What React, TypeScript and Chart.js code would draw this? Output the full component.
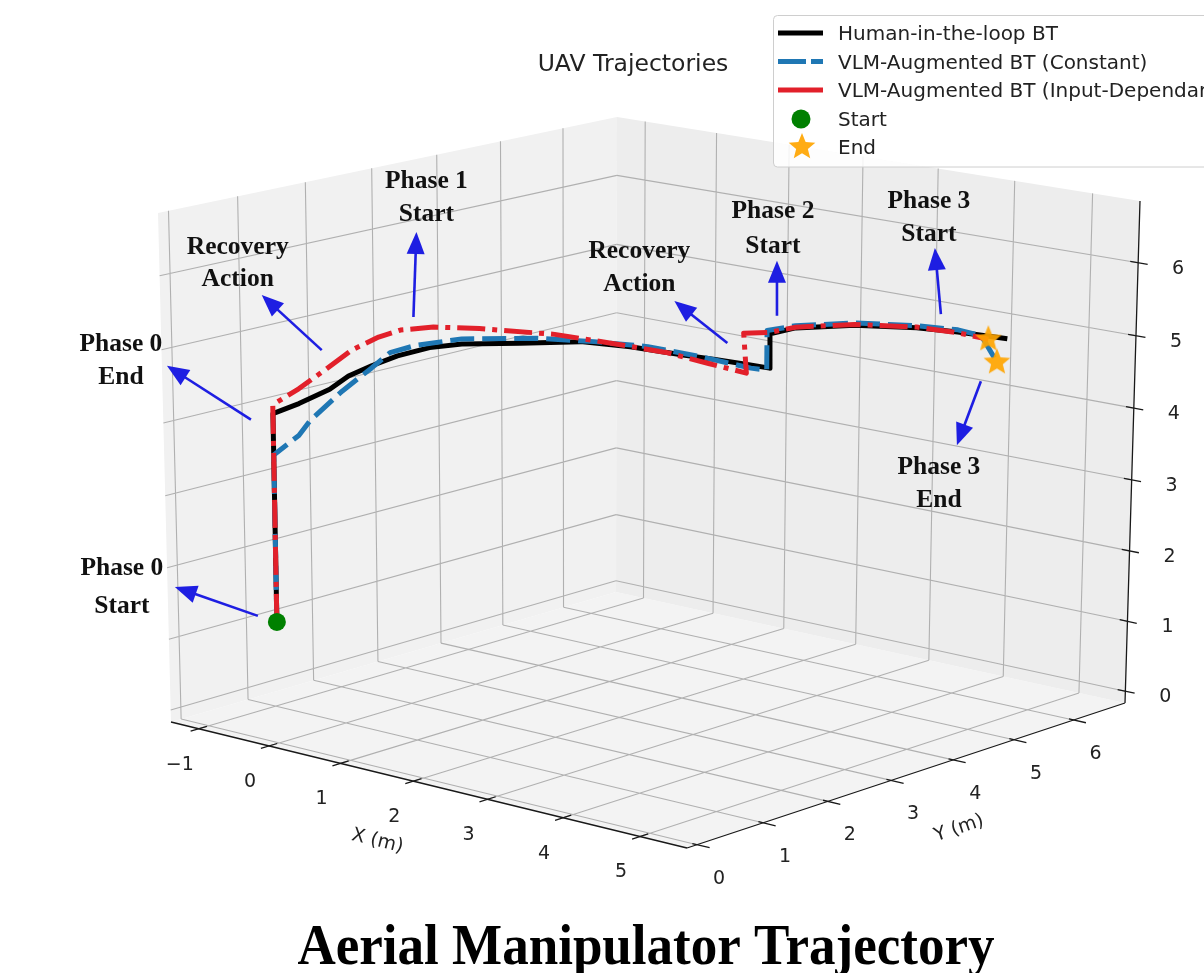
import React, { useEffect, useRef } from 'react';
import { Chart, registerables } from 'chart.js';

Chart.register(...registerables);

const FIG_W = 1204;
const FIG_H = 973;

type V3 = [number, number, number];

// ---------- axes (metres) ----------
const X_LIM: [number, number] = [-1.4, 5.6];
const Y_LIM: [number, number] = [-0.15, 6.88];
const Z_LIM: [number, number] = [-0.17, 6.84];
const X_TICKS = [-1, 0, 1, 2, 3, 4, 5];
const Y_TICKS = [0, 1, 2, 3, 4, 5, 6];
const Z_TICKS = [0, 1, 2, 3, 4, 5, 6];

// ---------- Human-in-the-loop BT ----------
const humanX = [0, 0, 0.0, -0.1, -0.26, -0.29, -0.29, -0.19, -0.06, 0.37, 0.79, 1.34, 2.0, 2.4, 2.76, 3.06, 3.06, 3.01, 3.38, 3.93, 4.37, 4.98];
const humanY = [0, 0, 0.38, 0.94, 1.39, 1.77, 2.16, 2.54, 2.89, 3.31, 3.78, 3.93, 3.99, 4.05, 4.08, 4.1, 4.1, 4.57, 5.07, 5.39, 5.51, 5.5];
const humanZ = [1.52, 4.37, 4.42, 4.47, 4.52, 4.57, 4.62, 4.67, 4.67, 4.67, 4.67, 4.67, 4.67, 4.67, 4.67, 4.67, 5.14, 5.11, 5.11, 5.11, 5.11, 5.14];

// ---------- VLM-Augmented BT (Constant) ----------
const constX = [0, 0, 0.0, -0.03, -0.22, -0.29, -0.29, -0.23, -0.06, 0.49, 0.94, 1.56, 2.22, 2.83, 3.03, 3.03, 3.01, 3.38, 3.93, 4.37, 4.68, 4.87];
const constY = [0, 0, 0.37, 0.57, 1.25, 1.77, 2.05, 2.37, 2.89, 3.45, 3.82, 3.95, 4.02, 4.08, 4.09, 4.09, 4.57, 5.07, 5.39, 5.51, 5.5, 5.52];
const constZ = [1.52, 3.81, 3.99, 4.14, 4.35, 4.54, 4.69, 4.73, 4.74, 4.73, 4.69, 4.71, 4.68, 4.63, 4.64, 5.18, 5.14, 5.14, 5.14, 5.14, 5.12, 4.79];

// ---------- VLM-Augmented BT (Input-Dependant) ----------
const inputX = [0, 0, 0.0, -0.09, -0.27, -0.29, -0.28, -0.17, 0.07, 0.61, 1.14, 1.79, 2.3, 2.77, 2.73, 3.06, 3.01, 3.38, 3.93, 4.37, 4.77];
const inputY = [0, 0, 0.38, 0.86, 1.46, 1.88, 2.2, 2.58, 3.02, 3.58, 3.88, 3.97, 4.04, 4.08, 4.08, 4.1, 4.57, 5.07, 5.39, 5.51, 5.5];
const inputZ = [1.52, 4.49, 4.62, 4.75, 4.86, 4.94, 4.97, 4.95, 4.88, 4.78, 4.69, 4.67, 4.6, 4.55, 5.09, 5.16, 5.12, 5.12, 5.12, 5.1, 5.09];

const LEGEND_LABELS = [
  'Human-in-the-loop BT',
  'VLM-Augmented BT (Constant)',
  'VLM-Augmented BT (Input-Dependant)',
  'Start',
  'End',
];

const TITLE = 'UAV Trajectories';
const CAPTION = 'Aerial Manipulator Trajectory';

// ---------- camera calibration: screen position of the axes box ----------
const BOX_CORNERS: { key: string; px: [number, number] }[] = [
  { key: '000', px: [171, 722] },
  { key: '100', px: [687, 848] },
  { key: '110', px: [1125, 703] },
  { key: '010', px: [616, 592] },
  { key: '001', px: [158, 213] },
  { key: '011', px: [617, 117] },
  { key: '111', px: [1140, 201] },
];
const X_TICK_PX: [number, number][] = [[200, 728], [273, 746], [342, 764], [417, 781], [491, 800], [568, 818], [642, 838]];
const Y_TICK_PX: [number, number][] = [[697, 847], [765, 823], [827, 802], [893, 781], [954, 760], [1014, 739], [1073, 719]];
const Z_TICK_PX: [number, number][] = [[1125.4, 691], [1127.7, 620], [1129.9, 548], [1132.1, 478], [1134.4, 406], [1136.7, 333], [1139, 261]];

function fitCamera(): number[] {
  const rows: number[][] = [];
  const rhs: number[] = [];
  const add = (X: number, Y: number, Z: number, u0: number, v0: number) => {
    const u = u0 / 1000, v = v0 / 1000;
    rows.push([X, Y, Z, 1, 0, 0, 0, 0, -u * X, -u * Y, -u * Z]); rhs.push(u);
    rows.push([0, 0, 0, 0, X, Y, Z, 1, -v * X, -v * Y, -v * Z]); rhs.push(v);
  };
  BOX_CORNERS.forEach(({ key, px }) => {
    add(X_LIM[+key[0]], Y_LIM[+key[1]], Z_LIM[+key[2]], px[0], px[1]);
  });
  X_TICKS.forEach((t, i) => add(t, Y_LIM[0], Z_LIM[0], X_TICK_PX[i][0], X_TICK_PX[i][1]));
  Y_TICKS.forEach((t, i) => add(X_LIM[1], t, Z_LIM[0], Y_TICK_PX[i][0], Y_TICK_PX[i][1]));
  Z_TICKS.forEach((t, i) => add(X_LIM[1], Y_LIM[1], t, Z_TICK_PX[i][0], Z_TICK_PX[i][1]));
  const n = 11;
  const M = Array.from({ length: n }, () => new Array(n).fill(0));
  const b = new Array(n).fill(0);
  rows.forEach((r, k) => {
    for (let i = 0; i < n; i++) {
      for (let j = 0; j < n; j++) M[i][j] += r[i] * r[j];
      b[i] += r[i] * rhs[k];
    }
  });
  for (let c = 0; c < n; c++) {
    let p = c;
    for (let r = c + 1; r < n; r++) if (Math.abs(M[r][c]) > Math.abs(M[p][c])) p = r;
    [M[c], M[p]] = [M[p], M[c]];
    [b[c], b[p]] = [b[p], b[c]];
    for (let r = 0; r < n; r++) {
      if (r === c) continue;
      const f = M[r][c] / M[c][c];
      for (let k = c; k < n; k++) M[r][k] -= f * M[c][k];
      b[r] -= f * b[c];
    }
  }
  return b.map((v, i) => v / M[i][i]);
}

const CAM = fitCamera();

function projectRaw(p: V3): [number, number] {
  const [X, Y, Z] = p;
  const c = CAM;
  const d = c[8] * X + c[9] * Y + c[10] * Z + 1;
  return [(1000 * (c[0] * X + c[1] * Y + c[2] * Z + c[3])) / d, (1000 * (c[4] * X + c[5] * Y + c[6] * Z + c[7])) / d];
}

// residual of the perspective fit at each box corner, blended trilinearly
const RESID: Record<string, [number, number]> = (() => {
  const r: Record<string, [number, number]> = {};
  BOX_CORNERS.forEach(({ key, px }) => {
    const q = projectRaw([X_LIM[+key[0]], Y_LIM[+key[1]], Z_LIM[+key[2]]]);
    r[key] = [px[0] - q[0], px[1] - q[1]];
  });
  r['101'] = [r['100'][0] + r['001'][0] - r['000'][0], r['100'][1] + r['001'][1] - r['000'][1]];
  return r;
})();

function project(p: V3): { x: number; y: number } {
  const q = projectRaw(p);
  const u = (p[0] - X_LIM[0]) / (X_LIM[1] - X_LIM[0]);
  const v = (p[1] - Y_LIM[0]) / (Y_LIM[1] - Y_LIM[0]);
  const w = (p[2] - Z_LIM[0]) / (Z_LIM[1] - Z_LIM[0]);
  let dx = 0, dy = 0;
  for (const key of Object.keys(RESID)) {
    const wu = key[0] === '1' ? u : 1 - u;
    const wv = key[1] === '1' ? v : 1 - v;
    const ww = key[2] === '1' ? w : 1 - w;
    const k = wu * wv * ww;
    dx += k * RESID[key][0];
    dy += k * RESID[key][1];
  }
  return { x: q[0] + dx, y: q[1] + dy };
}

const GAP = { x: NaN, y: NaN };
const seg = (a: V3, b: V3) => [project(a), project(b), GAP];
const series = (xs: number[], ys: number[], zs: number[]): V3[] => xs.map((x, i) => [x, ys[i], zs[i]] as V3);

const HUMAN = series(humanX, humanY, humanZ);
const CONST = series(constX, constY, constZ);
const INPUT = series(inputX, inputY, inputZ);
const SERIES: Record<string, V3[]> = { human: HUMAN, const: CONST, input: INPUT };

// annotation overlays: anchored on a trajectory sample, offsets in screen pixels
const ANNOTATIONS = [
  { lines: ['Phase 0', 'Start'], anchor: ['human', 0], tail: [-19, -6], head: [-102, -35], text: [-155, -53], gap: 38 },
  { lines: ['Phase 0', 'End'], anchor: ['human', 1], tail: [-22, 6], head: [-106, -48], text: [-152, -69], gap: 33 },
  { lines: ['Recovery', 'Action'], anchor: ['input', 3], tail: [-3, -20], head: [-63, -75], text: [-87, -123], gap: 32 },
  { lines: ['Phase 1', 'Start'], anchor: ['input', 7], tail: [-20, -10], head: [-17, -95], text: [-7, -146], gap: 33 },
  { lines: ['Recovery', 'Action'], anchor: ['input', 13], tail: [-19, -30], head: [-72, -72], text: [-107, -122], gap: 33 },
  { lines: ['Phase 2', 'Start'], anchor: ['human', 16], tail: [7, -18], head: [7, -73], text: [3, -122], gap: 35 },
  { lines: ['Phase 3', 'Start'], anchor: ['human', 20], tail: [-17, -18], head: [-23, -84], text: [-29, -131], gap: 33 },
  { lines: ['Phase 3', 'End'], anchor: ['const', 21], tail: [-16, 19], head: [-40, 83], text: [-58, 105], gap: 33 },
] as { lines: string[]; anchor: [string, number]; tail: number[]; head: number[]; text: number[]; gap: number }[];

// ---------- styles ----------
const C_HUMAN = 'rgb(0,0,0)';
const C_CONST = 'rgb(31,119,180)';
const C_INPUT = 'rgb(226,32,42)';
const C_START = 'rgb(0,128,0)';
const C_END = 'rgba(255,165,0,0.92)';
const C_ARROW = 'rgb(30,30,226)';
const C_GRID = 'rgb(176,176,176)';
const C_TEXT = '#222222';
const SANS = '"DejaVu Sans", sans-serif';
const SERIF = '"Liberation Serif", "DejaVu Serif", serif';

function makeStar(r: number, color: string): HTMLCanvasElement {
  const c = document.createElement('canvas');
  const s = Math.ceil(r * 2 + 2);
  c.width = s;
  c.height = s;
  const g = c.getContext('2d')!;
  g.translate(s / 2, s / 2);
  g.beginPath();
  for (let i = 0; i < 10; i++) {
    const rad = i % 2 === 0 ? r : r * 0.44;
    const a = -Math.PI / 2 + (i * Math.PI) / 5;
    if (i === 0) g.moveTo(Math.cos(a) * rad, Math.sin(a) * rad);
    else g.lineTo(Math.cos(a) * rad, Math.sin(a) * rad);
  }
  g.closePath();
  g.fillStyle = color;
  g.fill();
  return c;
}

const fmt = (t: number) => (t < 0 ? '\u2212' + Math.abs(t) : String(t));

export default function App() {
  const ref = useRef<HTMLCanvasElement | null>(null);

  useEffect(() => {
    document.body.style.margin = '0';
    const canvas = ref.current!;
    const [X0, X1] = X_LIM;
    const [Y0, Y1] = Y_LIM;
    const [Z0, Z1] = Z_LIM;
    const A: V3 = [X0, Y0, Z0], B: V3 = [X1, Y0, Z0], Cc: V3 = [X1, Y1, Z0], D: V3 = [X0, Y1, Z0];
    const E: V3 = [X0, Y0, Z1], F: V3 = [X0, Y1, Z1], G: V3 = [X1, Y1, Z1];
    const poly = (ps: V3[]) => ps.map(project);

    const floorGrid = [
      ...X_TICKS.flatMap((t) => seg([t, Y0, Z0], [t, Y1, Z0])),
      ...Y_TICKS.flatMap((t) => seg([X0, t, Z0], [X1, t, Z0])),
    ];
    const leftGrid = [
      ...Y_TICKS.flatMap((t) => seg([X0, t, Z0], [X0, t, Z1])),
      ...Z_TICKS.flatMap((t) => seg([X0, Y0, t], [X0, Y1, t])),
    ];
    const rightGrid = [
      ...X_TICKS.flatMap((t) => seg([t, Y1, Z0], [t, Y1, Z1])),
      ...Z_TICKS.flatMap((t) => seg([X0, Y1, t], [X1, Y1, t])),
    ];
    const axes = [...seg(A, B), ...seg(B, Cc), ...seg(Cc, G)];
    const ticks = [
      ...X_TICKS.flatMap((t) => seg([t, Y0 + 0.12, Z0], [t, Y0 - 0.12, Z0])),
      ...Y_TICKS.flatMap((t) => seg([X1 - 0.06, t, Z0], [X1 + 0.16, t, Z0])),
      ...Z_TICKS.flatMap((t) => seg([X1 - 0.1, Y1, t], [X1 + 0.12, Y1, t])),
    ];

    const star = makeStar(14, C_END);
    const lineBase = { pointRadius: 0, pointHoverRadius: 0, tension: 0, fill: false };

    const overlay = {
      id: 'overlay3d',
      afterDraw(chart: any) {
        const ctx: CanvasRenderingContext2D = chart.ctx;
        const sx = chart.scales.x, sy = chart.scales.y;
        const px = (p: V3): [number, number] => {
          const q = project(p);
          return [sx.getPixelForValue(q.x), sy.getPixelForValue(q.y)];
        };
        ctx.save();
        // tick labels
        ctx.fillStyle = C_TEXT;
        ctx.font = `19px ${SANS}`;
        ctx.textAlign = 'center';
        ctx.textBaseline = 'middle';
        X_TICKS.forEach((t) => {
          const [a, b] = px([t, Y0, Z0]);
          ctx.fillText(fmt(t), a - 19, b + 36);
        });
        Y_TICKS.forEach((t) => {
          const [a, b] = px([X1, t, Z0]);
          ctx.fillText(fmt(t), a + 22, b + 34);
        });
        Z_TICKS.forEach((t) => {
          const [a, b] = px([X1, Y1, t]);
          ctx.fillText(fmt(t), a + 40, b + 6);
        });
        // axis labels
        const drawRot = (txt: string, x: number, y: number, deg: number) => {
          ctx.save();
          ctx.translate(x, y);
          ctx.rotate((deg * Math.PI) / 180);
          ctx.fillText(txt, 0, 0);
          ctx.restore();
        };
        {
          const [a, b] = px([2, Y0, Z0]);
          drawRot('X (m)', a - 36, b + 60, 14);
          const [c, d] = px([X1, 3, Z0]);
          drawRot('Y (m)', c + 68, d + 48, -18.7);
        }
        // annotations
        ANNOTATIONS.forEach((an) => {
          const pt = SERIES[an.anchor[0]][an.anchor[1]];
          const [ax, ay] = px(pt);
          const tx = ax + an.tail[0], ty = ay + an.tail[1];
          const hx = ax + an.head[0], hy = ay + an.head[1];
          const dx = hx - tx, dy = hy - ty;
          const len = Math.hypot(dx, dy);
          const ux = dx / len, uy = dy / len;
          const L = 22, hw = 9;
          const bx = hx - ux * L, by = hy - uy * L;
          ctx.strokeStyle = C_ARROW;
          ctx.fillStyle = C_ARROW;
          ctx.lineWidth = 2.6;
          ctx.beginPath();
          ctx.moveTo(tx, ty);
          ctx.lineTo(bx + ux * 2, by + uy * 2);
          ctx.stroke();
          ctx.beginPath();
          ctx.moveTo(hx, hy);
          ctx.lineTo(bx - uy * hw, by + ux * hw);
          ctx.lineTo(bx + uy * hw, by - ux * hw);
          ctx.closePath();
          ctx.fill();
          ctx.fillStyle = '#111111';
          ctx.font = `bold 25.5px ${SERIF}`;
          ctx.textAlign = 'center';
          ctx.textBaseline = 'middle';
          an.lines.forEach((l, i) => ctx.fillText(l, ax + an.text[0], ay + an.text[1] + i * an.gap));
        });
        // title
        ctx.fillStyle = C_TEXT;
        ctx.font = `23.5px ${SANS}`;
        ctx.textAlign = 'center';
        ctx.textBaseline = 'alphabetic';
        ctx.fillText(TITLE, 633, 71);
        // legend
        ctx.beginPath();
        const lx = 773.5, ly = 15.5, lw = 445, lh = 151.5, r = 4;
        ctx.moveTo(lx + r, ly);
        ctx.lineTo(lx + lw - r, ly);
        ctx.arcTo(lx + lw, ly, lx + lw, ly + r, r);
        ctx.lineTo(lx + lw, ly + lh - r);
        ctx.arcTo(lx + lw, ly + lh, lx + lw - r, ly + lh, r);
        ctx.lineTo(lx + r, ly + lh);
        ctx.arcTo(lx, ly + lh, lx, ly + lh - r, r);
        ctx.lineTo(lx, ly + r);
        ctx.arcTo(lx, ly, lx + r, ly, r);
        ctx.closePath();
        ctx.fillStyle = 'rgba(255,255,255,0.85)';
        ctx.fill();
        ctx.strokeStyle = 'rgb(206,206,206)';
        ctx.lineWidth = 1;
        ctx.stroke();
        const baselines = [40, 68.5, 97, 125.5, 154];
        const handle = (y: number, color: string, dash: number[]) => {
          ctx.save();
          ctx.strokeStyle = color;
          ctx.lineWidth = 5;
          ctx.setLineDash(dash);
          ctx.beginPath();
          ctx.moveTo(778, y);
          ctx.lineTo(823, y);
          ctx.stroke();
          ctx.restore();
        };
        handle(baselines[0] - 7, C_HUMAN, []);
        handle(baselines[1] - 7, C_CONST, [28, 5]);
        handle(baselines[2] - 7, C_INPUT, []);
        ctx.fillStyle = C_START;
        ctx.beginPath();
        ctx.arc(801, baselines[3] - 6.5, 9.5, 0, Math.PI * 2);
        ctx.fill();
        ctx.drawImage(star, 802 - star.width / 2, baselines[4] - 7 - star.height / 2);
        ctx.fillStyle = C_TEXT;
        ctx.font = `20px ${SANS}`;
        ctx.textAlign = 'left';
        LEGEND_LABELS.forEach((t, i) => ctx.fillText(t, 838, baselines[i]));
        // caption
        ctx.font = `bold 56px ${SERIF}`;
        ctx.fillStyle = '#000000';
        ctx.textAlign = 'center';
        const w = ctx.measureText(CAPTION).width;
        ctx.save();
        ctx.translate(646, 964);
        ctx.scale(697 / w, 1);
        ctx.fillText(CAPTION, 0, 0);
        ctx.restore();
        ctx.restore();
      },
    };

    const chart = new Chart(canvas, {
      type: 'line',
      data: {
        datasets: [
          { ...lineBase, label: 'floor', data: poly([A, B, Cc, D, A]), fill: 'shape', backgroundColor: 'rgb(243,243,243)', borderWidth: 0, borderColor: 'rgba(0,0,0,0)', order: 100 },
          { ...lineBase, label: 'xpane', data: poly([A, D, F, E, A]), fill: 'shape', backgroundColor: 'rgb(241,241,241)', borderWidth: 0, borderColor: 'rgba(0,0,0,0)', order: 99 },
          { ...lineBase, label: 'ypane', data: poly([D, Cc, G, F, D]), fill: 'shape', backgroundColor: 'rgb(237,237,237)', borderWidth: 0, borderColor: 'rgba(0,0,0,0)', order: 98 },
          { ...lineBase, label: 'floorGrid', data: floorGrid, borderColor: C_GRID, borderWidth: 1.1, order: 97 },
          { ...lineBase, label: 'leftGrid', data: leftGrid, borderColor: C_GRID, borderWidth: 1.1, order: 96 },
          { ...lineBase, label: 'rightGrid', data: rightGrid, borderColor: C_GRID, borderWidth: 1.1, order: 95 },
          { ...lineBase, label: 'axes', data: axes, borderColor: 'rgb(25,25,25)', borderWidth: 1.3, order: 94 },
          { ...lineBase, label: 'ticks', data: ticks, borderColor: 'rgb(25,25,25)', borderWidth: 1.3, order: 93 },
          { ...lineBase, label: LEGEND_LABELS[0], data: HUMAN.map(project), borderColor: C_HUMAN, borderWidth: 5, borderCapStyle: 'square', borderJoinStyle: 'round', order: 30 },
          { ...lineBase, label: LEGEND_LABELS[1], data: CONST.map(project), borderColor: C_CONST, borderWidth: 5, borderDash: [24, 8], borderJoinStyle: 'round', order: 20 },
          { ...lineBase, label: LEGEND_LABELS[2], data: INPUT.map(project), borderColor: C_INPUT, borderWidth: 5, borderDash: [28, 7, 5, 7], borderJoinStyle: 'round', order: 10 },
          { label: LEGEND_LABELS[3], data: [project(HUMAN[0])], showLine: false, pointRadius: 9, pointHoverRadius: 9, pointBackgroundColor: C_START, pointBorderWidth: 0, borderColor: C_START, order: 5 },
          { label: LEGEND_LABELS[4], data: [project(INPUT[INPUT.length - 1]), project(CONST[CONST.length - 1])], showLine: false, pointStyle: star, pointRadius: 14, pointHoverRadius: 14, pointBorderWidth: 0, order: 4 },
        ] as any,
      },
      options: {
        responsive: false,
        maintainAspectRatio: false,
        devicePixelRatio: 1,
        animation: false,
        events: [],
        layout: { padding: 0, autoPadding: false },
        plugins: { legend: { display: false }, tooltip: { enabled: false }, title: { display: false } },
        scales: {
          x: { type: 'linear', min: 0, max: FIG_W, display: false },
          y: { type: 'linear', min: 0, max: FIG_H, reverse: true, display: false },
        },
      },
      plugins: [overlay],
    });
    return () => chart.destroy();
  }, []);

  return (
    <div style={{ width: FIG_W, height: FIG_H, position: 'relative', background: '#ffffff' }}>
      <canvas ref={ref} width={FIG_W} height={FIG_H} style={{ display: 'block', width: FIG_W, height: FIG_H }} />
    </div>
  );
}
